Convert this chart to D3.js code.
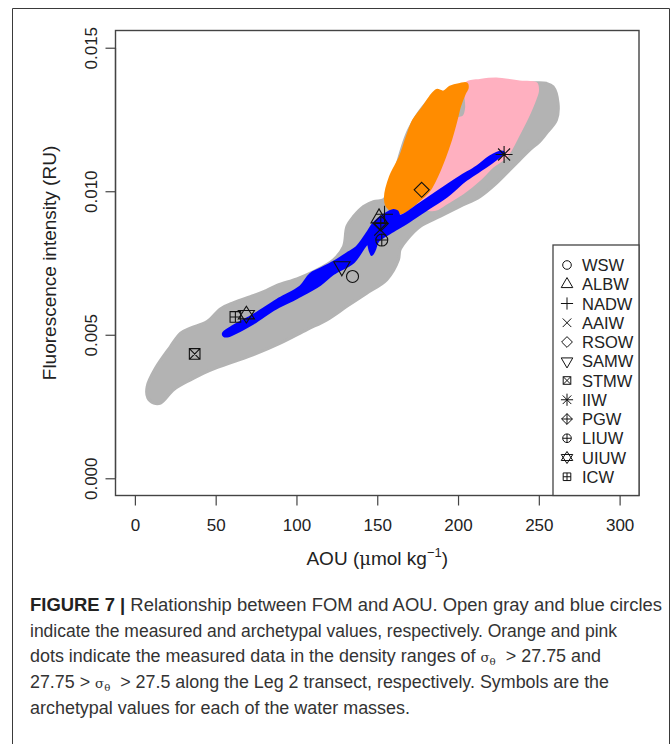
<!DOCTYPE html>
<html>
<head>
<meta charset="utf-8">
<script src="https://cdn.jsdelivr.net/npm/d3@7"></script>
<style>
  html, body { margin: 0; padding: 0; background: #fff; }
  svg { display: block; }
</style>
</head>
<body>
<div id="chart"></div>
<script>
// ---------------- DATA ----------------
// Axis ticks
const xTicks = [0, 50, 100, 150, 200, 250, 300];
const yTicks = [0.000, 0.005, 0.010, 0.015];
const yTickLabels = ["0.000", "0.005", "0.010", "0.015"];

// Outline of the cloud of measured values (open gray circles), [AOU, FI]
const grayOutline = [
  [7.6, 0.0032], [12.8, 0.00384], [22, 0.00459], [28.3, 0.00506], [34.4, 0.00523],
  [44.7, 0.00546], [52.9, 0.00590], [61.1, 0.00612], [71.5, 0.00633], [79.7, 0.00650],
  [87.9, 0.00672], [100.3, 0.00695], [110.6, 0.00720], [122.9, 0.00761], [129.1, 0.00807],
  [131.2, 0.00877], [135.3, 0.00912], [141.5, 0.00947], [147.6, 0.00964], [153.8, 0.0097],
  [155.9, 0.00987], [160, 0.0105], [170, 0.0122], [185, 0.0133], [205, 0.0136], [230, 0.0137],
  [248.5, 0.01378], [254.7, 0.01376], [258.8, 0.01364], [261.9, 0.01307], [260.9, 0.01248],
  [254.7, 0.01202], [250.4, 0.01173], [244.4, 0.01144], [238.2, 0.01109], [232, 0.01074],
  [223.8, 0.01028], [213.5, 0.00981], [201.2, 0.00947], [188.8, 0.00912], [176.5, 0.00877],
  [168.3, 0.00831], [164.1, 0.00796], [163.1, 0.00761], [155.9, 0.00692], [143.5, 0.00645],
  [131.2, 0.00599], [118.8, 0.00552], [106.5, 0.00518], [90, 0.00471], [73.5, 0.00431],
  [59.1, 0.00402], [44.7, 0.00372], [34.4, 0.00343], [24.1, 0.00309], [15.9, 0.00262],
  [11.7, 0.00262], [8, 0.0028]
];

// Outline of measured data with sigma-theta > 27.75 (orange dots)
const orangeOutline = [
  [155.9, 0.00947], [154.8, 0.00981], [157.9, 0.01051], [164.1, 0.01121], [168.3, 0.0119],
  [172.3, 0.01248], [178.5, 0.01295], [182.6, 0.01329], [186.8, 0.01353], [190.9, 0.01347],
  [195, 0.01364], [201.2, 0.01374], [205.3, 0.01376], [206, 0.0136], [204.3, 0.01341],
  [201.2, 0.01295], [199.1, 0.01248], [195, 0.01167], [188.8, 0.01074], [182.6, 0.01005],
  [176.5, 0.0097], [170.3, 0.00941], [165.2, 0.00924], [160, 0.00929]
];

// Outline of measured data with 27.75 > sigma-theta > 27.5 (pink dots)
const pinkOutline = [
  [205.3, 0.01378], [213.5, 0.01388], [223.8, 0.01393], [238.2, 0.01382], [248.5, 0.01376],
  [249.5, 0.0135], [248.5, 0.01329], [244.4, 0.01272], [238.2, 0.01202], [230, 0.01121],
  [221.7, 0.01086], [213.5, 0.0104], [203.2, 0.00993], [193, 0.00958], [186, 0.00935],
  [178, 0.00935], [170, 0.0092], [164, 0.00915], [168.8, 0.00941], [175, 0.0097],
  [181.1, 0.01005], [187.3, 0.01074], [193.5, 0.01167], [198, 0.01248], [203.5, 0.01262],
  [205, 0.0129], [204.5, 0.0134]
];

// Outline of the archetypal values (blue circles)
const blueOutline = [
  [54.5, 0.00505], [59.1, 0.00525], [73.5, 0.0057], [87.9, 0.00622], [102.3, 0.00668],
  [108.5, 0.00712], [114.7, 0.0073], [125, 0.00761], [131.2, 0.00784], [137, 0.00805],
  [143.5, 0.00854], [147.6, 0.00889], [153.8, 0.00918], [160, 0.00935], [162.5, 0.0093],
  [164, 0.00915], [176.5, 0.00958], [188.8, 0.01005], [201.2, 0.01051], [211.5, 0.01086],
  [219.5, 0.01121], [226, 0.01138], [228.5, 0.01135], [225.9, 0.01121], [217.7, 0.01086],
  [205.3, 0.0104], [193, 0.00981], [180.6, 0.00935], [168.3, 0.00889], [157.9, 0.00854],
  [150.5, 0.00825], [148.5, 0.00795], [146.5, 0.00778], [145.2, 0.00795], [144, 0.00815],
  [135.3, 0.00752], [122.9, 0.00712], [114.7, 0.00674], [100.3, 0.00628], [85.9, 0.00587],
  [73.5, 0.0054], [57.1, 0.00494], [55, 0.00496]
];

// Archetypal values of the water masses (symbols)
const waterMasses = ["WSW", "ALBW", "NADW", "AAIW", "RSOW", "SAMW", "STMW", "IIW", "PGW", "LIUW", "UIUW", "ICW"];
const massPch     = [1, 2, 3, 4, 5, 6, 7, 8, 9, 10, 11, 12];
const massAOU     = [134.7, 151.1, 154.5, 151.8, 177.5, 128.1, 37.0, 228.5, 152.2, 152.8, 69.0, 62.2];
const massFI      = [0.00703, 0.00906, 0.00920, 0.00866, 0.01005, 0.00738, 0.00433, 0.01128, 0.00888, 0.00830, 0.00570, 0.00562];

// ---------------- CHART ----------------
const W = 672, H = 744;
const svg = d3.select("#chart").append("svg").attr("width", W).attr("height", H)
  .style("font-family", "'Liberation Sans', Arial, Helvetica, sans-serif");

// figure frame (open at the bottom)
svg.append("path")
  .attr("d", `M12.5,${H} L12.5,8.5 L669.5,8.5 L669.5,${H}`)
  .attr("fill", "none").attr("stroke", "#3a3a3a").attr("stroke-width", 1);

const plot = { left: 115.5, right: 639, top: 30.5, bottom: 495.5 };
const x = d3.scaleLinear().domain([-12, 312]).range([plot.left, plot.right]);
const y = d3.scaleLinear().domain([-0.0006, 0.0156]).range([plot.bottom, plot.top]);

const line = d3.line().x(d => x(d[0])).y(d => y(d[1])).curve(d3.curveCatmullRomClosed.alpha(0.5));

const g = svg.append("g");
g.append("path").datum(grayOutline).attr("d", line)
  .attr("fill", "#b3b3b3").attr("stroke", "#b3b3b3").attr("stroke-width", 3).attr("stroke-linejoin", "round");
g.append("path").datum(pinkOutline).attr("d", line)
  .attr("fill", "#ffb0c0").attr("stroke", "#ffb0c0").attr("stroke-width", 2).attr("stroke-linejoin", "round");
g.append("path").datum(orangeOutline).attr("d", line)
  .attr("fill", "#ff8c00").attr("stroke", "#ff8c00").attr("stroke-width", 2).attr("stroke-linejoin", "round");
g.append("path").datum(blueOutline).attr("d", line)
  .attr("fill", "#0000ff").attr("stroke", "#0000ff").attr("stroke-width", 2).attr("stroke-linejoin", "round");

// R-style plotting symbols
function symbolPath(pch, cx, cy, s) {
  const p = d3.path();
  const circle = r => { p.moveTo(cx + r, cy); p.arc(cx, cy, r, 0, 2 * Math.PI); };
  const seg = (x1, y1, x2, y2) => { p.moveTo(x1, y1); p.lineTo(x2, y2); };
  const poly = pts => { p.moveTo(pts[0][0], pts[0][1]); pts.slice(1).forEach(q => p.lineTo(q[0], q[1])); p.closePath(); };
  const sq = 0.886 * s, dm = 1.2533 * s, tr = 1.5551 * s, tx = 1.3468 * s, ty = 0.7776 * s, pl = 1.4142 * s;
  switch (pch) {
    case 1: circle(s); break;
    case 2: poly([[cx, cy - tr], [cx + tx, cy + ty], [cx - tx, cy + ty]]); break;
    case 3: seg(cx - pl, cy, cx + pl, cy); seg(cx, cy - pl, cx, cy + pl); break;
    case 4: seg(cx - s, cy - s, cx + s, cy + s); seg(cx - s, cy + s, cx + s, cy - s); break;
    case 5: poly([[cx, cy - dm], [cx + dm, cy], [cx, cy + dm], [cx - dm, cy]]); break;
    case 6: poly([[cx, cy + tr], [cx + tx, cy - ty], [cx - tx, cy - ty]]); break;
    case 7: poly([[cx - sq, cy - sq], [cx + sq, cy - sq], [cx + sq, cy + sq], [cx - sq, cy + sq]]);
            seg(cx - sq, cy - sq, cx + sq, cy + sq); seg(cx - sq, cy + sq, cx + sq, cy - sq); break;
    case 8: seg(cx - s, cy - s, cx + s, cy + s); seg(cx - s, cy + s, cx + s, cy - s);
            seg(cx - pl, cy, cx + pl, cy); seg(cx, cy - pl, cx, cy + pl); break;
    case 9: poly([[cx, cy - dm], [cx + dm, cy], [cx, cy + dm], [cx - dm, cy]]);
            seg(cx - dm, cy, cx + dm, cy); seg(cx, cy - dm, cx, cy + dm); break;
    case 10: circle(s); seg(cx - s, cy, cx + s, cy); seg(cx, cy - s, cx, cy + s); break;
    case 11: { const r = tr, yc = 0.5 * (ty + tr);
            poly([[cx - tx, cy - yc * 0.6], [cx + tx, cy - yc * 0.6], [cx, cy + r * 0.9]]);
            poly([[cx - tx, cy + yc * 0.6], [cx + tx, cy + yc * 0.6], [cx, cy - r * 0.9]]); break; }
    case 12: poly([[cx - sq, cy - sq], [cx + sq, cy - sq], [cx + sq, cy + sq], [cx - sq, cy + sq]]);
            seg(cx - sq, cy, cx + sq, cy); seg(cx, cy - sq, cx, cy + sq); break;
  }
  return p.toString();
}

const symbols = waterMasses.map((name, i) => ({ name, pch: massPch[i], aou: massAOU[i], fi: massFI[i] }));
g.selectAll("path.sym").data(symbols).join("path").attr("class", "sym")
  .attr("d", d => symbolPath(d.pch, x(d.aou), y(d.fi), 6))
  .attr("fill", "none").attr("stroke", "#111").attr("stroke-width", 1.1);

// plot box
svg.append("rect").attr("x", plot.left).attr("y", plot.top)
  .attr("width", plot.right - plot.left).attr("height", plot.bottom - plot.top)
  .attr("fill", "none").attr("stroke", "#444").attr("stroke-width", 1.4);

// axes
const xAxis = svg.append("g").attr("transform", `translate(0,${plot.bottom})`)
  .call(d3.axisBottom(x).tickValues(xTicks).tickSize(10).tickFormat(d3.format("d")));
xAxis.select(".domain").attr("stroke", "#444").attr("stroke-width", 1.2)
  .attr("d", `M${x(0)},0H${x(300)}`);
xAxis.selectAll(".tick line").attr("stroke", "#444").attr("stroke-width", 1.2);
xAxis.selectAll(".tick text").attr("y", 35.5).attr("dy", 0)
  .attr("font-size", 17).attr("font-family", "'Liberation Sans', Arial, sans-serif").attr("fill", "#222");

const yAxis = svg.append("g").attr("transform", `translate(${plot.left},0)`)
  .call(d3.axisLeft(y).tickValues(yTicks).tickSize(10).tickFormat((d, i) => yTickLabels[i]));
yAxis.select(".domain").attr("stroke", "#444").attr("stroke-width", 1.2)
  .attr("d", `M0,${y(0)}V${y(0.015)}`);
yAxis.selectAll(".tick line").attr("stroke", "#444").attr("stroke-width", 1.2);
yAxis.selectAll(".tick text").attr("transform", "rotate(-90)")
  .attr("x", 0).attr("y", -18.5).attr("dy", 0).attr("text-anchor", "middle")
  .attr("font-size", 17).attr("font-family", "'Liberation Sans', Arial, sans-serif").attr("fill", "#222");

// axis titles
const xt = svg.append("text").attr("x", (plot.left + plot.right) / 2).attr("y", 565)
  .attr("text-anchor", "middle").attr("font-size", 19).attr("fill", "#222");
xt.append("tspan").text("AOU (");
xt.append("tspan").text("\u03bc").attr("font-family", "'DejaVu Serif', serif").attr("font-size", 18);
xt.append("tspan").text("mol kg");
xt.append("tspan").text("\u22121").attr("font-size", 13).attr("dy", -8);
xt.append("tspan").text(")").attr("dy", 8);

svg.append("text").attr("transform", `translate(56,${(plot.top + plot.bottom) / 2}) rotate(-90)`)
  .attr("text-anchor", "middle").attr("font-size", 19).attr("fill", "#222")
  .text("Fluorescence intensity (RU)");

// legend
const leg = { left: 553, top: 245, right: plot.right, bottom: plot.bottom, y0: 265, dy: 19.25 };
svg.append("rect").attr("x", leg.left).attr("y", leg.top)
  .attr("width", leg.right - leg.left).attr("height", leg.bottom - leg.top)
  .attr("fill", "#fff").attr("stroke", "#444").attr("stroke-width", 1.3);
const li = svg.selectAll("g.li").data(symbols).join("g").attr("class", "li")
  .attr("transform", (d, i) => `translate(0,${leg.y0 + i * leg.dy})`);
li.append("path").attr("d", d => symbolPath(d.pch, 567, 0, 4.3))
  .attr("fill", "none").attr("stroke", "#111").attr("stroke-width", 1);
li.append("text").attr("x", 582).attr("y", 6).attr("font-size", 16.5).attr("fill", "#222").text(d => d.name);

// caption
const cap = svg.append("g").attr("font-size", 17.5).attr("fill", "#333");
const capX = 30, capY0 = 611, capDy = 25.7;
const capEnds = [662, 617, 601, 609, 410];
const l1 = cap.append("text").attr("x", capX).attr("y", capY0);
l1.append("tspan").attr("font-weight", "bold").attr("fill", "#222").text("FIGURE 7 | ");
l1.append("tspan").text("Relationship between FOM and AOU. Open gray and blue circles");
const l2 = cap.append("text").attr("x", capX).attr("y", capY0 + capDy)
  .text("indicate the measured and archetypal values, respectively. Orange and pink");
const l3 = cap.append("text").attr("x", capX).attr("y", capY0 + 2 * capDy);
l3.append("tspan").text("dots indicate the measured data in the density ranges of ");
l3.append("tspan").attr("font-family", "'DejaVu Serif', serif").attr("font-size", 13).text("\u03c3");
l3.append("tspan").attr("font-family", "'DejaVu Serif', serif").attr("font-size", 10).attr("dy", 3).text("\u03b8");
l3.append("tspan").attr("dy", -3).text("\u00a0 > 27.75 and");
const l4 = cap.append("text").attr("x", capX).attr("y", capY0 + 3 * capDy);
l4.append("tspan").text("27.75 > ");
l4.append("tspan").attr("font-family", "'DejaVu Serif', serif").attr("font-size", 13).text("\u03c3");
l4.append("tspan").attr("font-family", "'DejaVu Serif', serif").attr("font-size", 10).attr("dy", 3).text("\u03b8");
l4.append("tspan").attr("dy", -3).text("\u00a0 > 27.5 along the Leg 2 transect, respectively. Symbols are the");
const l5 = cap.append("text").attr("x", capX).attr("y", capY0 + 4 * capDy)
  .text("archetypal values for each of the water masses.");
[l1, l2, l3, l4, l5].forEach((t, i) => {
  t.attr("textLength", capEnds[i] - capX).attr("lengthAdjust", "spacingAndGlyphs");
});
</script>
</body>
</html>
